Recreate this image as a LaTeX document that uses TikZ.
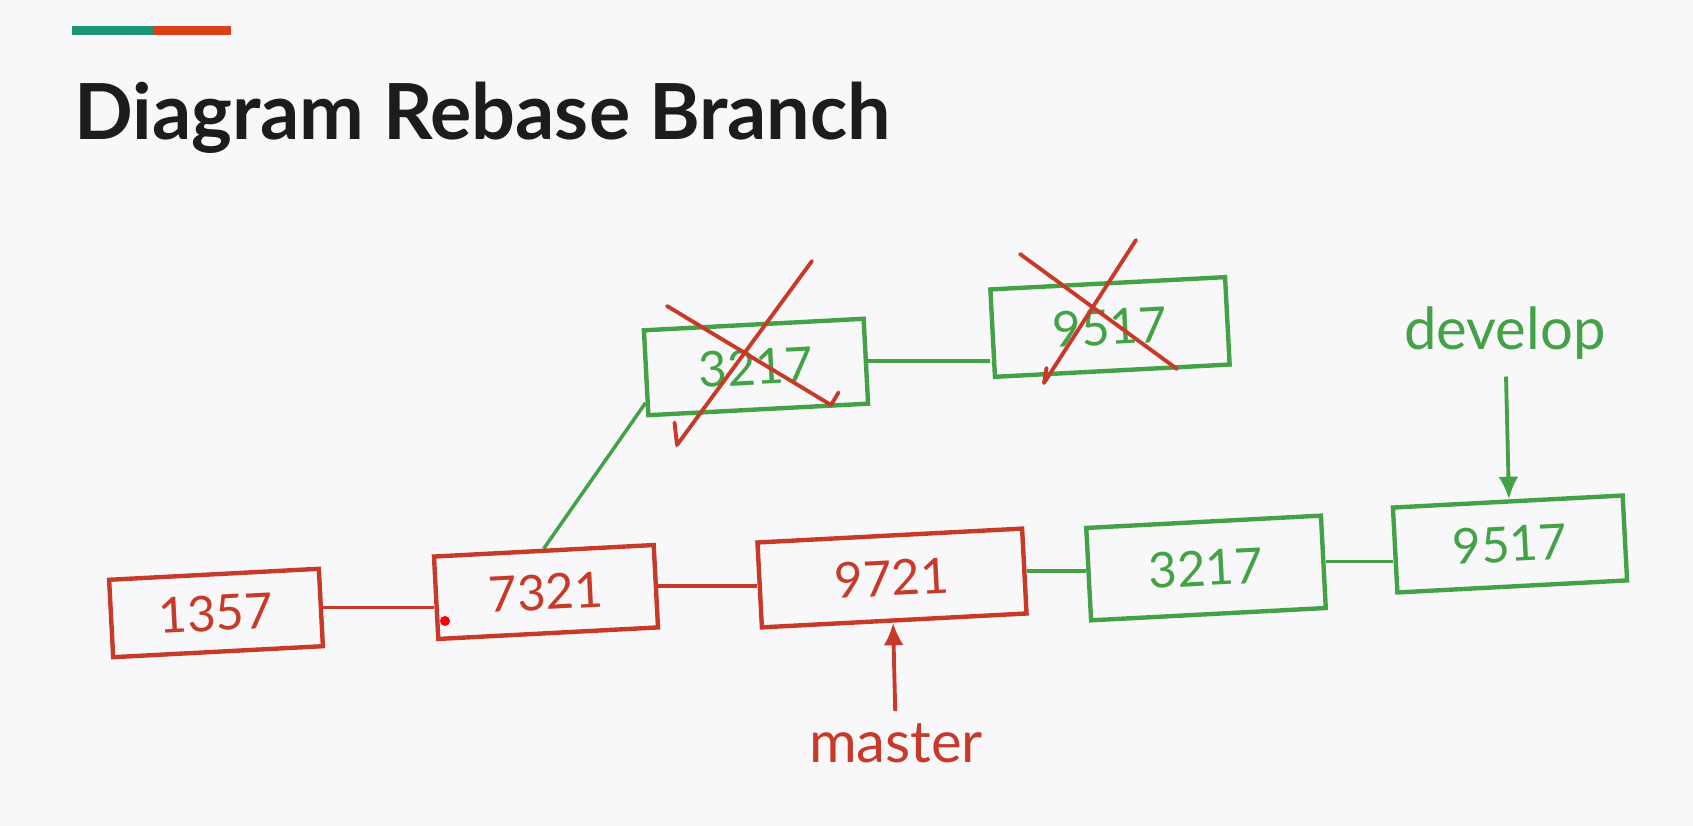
\documentclass[tikz,border=0pt]{standalone}
\usepackage{fontspec}
\setmainfont{Lato}
\usetikzlibrary{arrows.meta}
\definecolor{inkred}{RGB}{200,58,40}
\definecolor{inkgreen}{RGB}{68,162,70}
\definecolor{barteal}{RGB}{30,148,118}
\definecolor{barorange}{RGB}{216,66,22}
\definecolor{slidebg}{RGB}{248,248,250}
\definecolor{titleink}{RGB}{28,28,28}
\pgfdeclarelayer{bg}
\pgfsetlayers{bg,main}
\tikzset{
    every node/.style={rectangle, inner sep=0mm, line width=2.5pt, font=\fontsize{28}{30}\selectfont}
}
\tikzset{
    commit/.style={draw, rotate=3},
    master/.style={commit, draw=inkred, text=inkred},
    feature/.style={commit, draw=inkgreen, text=inkgreen},
    link/.style={line width=2pt},
    strike/.style={draw=inkred, line width=2.2pt, line cap=round, line join=round},
    pointer/.style={line width=2.2pt, -{Latex[length=0.45cm, width=0.4cm]}}
}

\begin{document}
\begin{tikzpicture}
        \useasboundingbox (0,0) rectangle (33.86,16.52);
        \fill[barteal] (1.44cm, 15.82cm) rectangle (3.06cm, 16.00cm);
        \fill[barorange] (3.06cm, 15.82cm) rectangle (4.62cm, 16.00cm);
        \node (title) [anchor=base west, text=titleink, font=\fontsize{44}{48}\selectfont\bfseries] at (1.44cm, 13.72cm) {Diagram Rebase Branch};
        \node (c0) [master, minimum width=4.2cm, minimum height=1.55cm] at (4.32cm, 4.26cm) {1357};
        \node (c1) [master, minimum width=4.4cm, minimum height=1.65cm] at (10.92cm, 4.68cm) {7321};
        \node (c2) [master, minimum width=5.3cm, minimum height=1.7cm] at (17.84cm, 4.96cm) {9721};
        \node (c3) [feature, minimum width=4.7cm, minimum height=1.85cm] at (24.12cm, 5.16cm) {3217};
        \node (c4) [feature, minimum width=4.6cm, minimum height=1.7cm] at (30.20cm, 5.64cm) {9517};
        \node (c5) [feature, minimum width=4.4cm, minimum height=1.7cm] at (15.12cm, 9.18cm) {3217};
        \node (c6) [feature, minimum width=4.7cm, minimum height=1.75cm] at (22.20cm, 9.98cm) {9517};
        \node (l0) [text=inkgreen, font=\fontsize{33}{35}\selectfont] at (30.10cm, 9.86cm) {develop};
        \node (l1) [text=inkred, font=\fontsize{33}{35}\selectfont] at (17.92cm, 1.66cm) {master};
        \fill[red] (8.90cm, 4.10cm) circle (0.1cm);
        % the old commits are struck out
        \draw[strike] (13.34cm, 10.40cm) -- (16.62cm, 8.42cm) -- ++(0.15cm, 0.25cm);
        \draw[strike] (16.24cm, 11.30cm) -- (13.54cm, 7.62cm) -- ++(-0.05cm, 0.45cm);
        \draw[strike] (20.40cm, 11.44cm) -- (23.54cm, 9.14cm);
        \draw[strike] (22.72cm, 11.72cm) -- (20.88cm, 8.86cm) -- ++(0.05cm, 0.3cm);
        \begin{pgfonlayer}{bg}
                \fill[slidebg] (0,0) rectangle (33.86,16.52);
                \draw (c0.east) edge [link, inkred] (c0.east -| c1.west);
                \draw (c1.east) edge [link, inkred] (c1.east -| c2.west);
                \draw (c2.east) edge [link, inkgreen] (c2.east -| c3.west);
                \draw (c3.east) edge [link, inkgreen] (c3.east -| c4.west);
                \draw (c1.north) edge [link, inkgreen] (c5.195);
                \draw (c5.east) edge [link, inkgreen] (c5.east -| c6.west);
                \draw (l0) edge [pointer, inkgreen, shorten <=0.3cm] (c4);
                \draw (l1) edge [pointer, inkred, shorten <=0.2cm] (c2);
        \end{pgfonlayer}
\end{tikzpicture}
\end{document}
